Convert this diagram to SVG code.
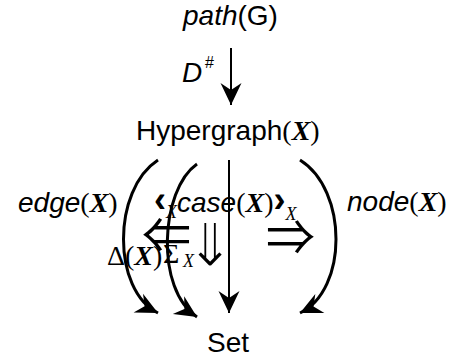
<svg xmlns="http://www.w3.org/2000/svg" width="456" height="357" viewBox="0 0 456 357">
<style>
.s{font-family:"Liberation Sans",Arial,sans-serif;font-size:28px;fill:#000}
.i{font-style:italic}
.t{font-family:"Liberation Serif","Times New Roman",serif}
.bx{font-family:"Liberation Serif","Times New Roman",serif;font-weight:bold;font-style:italic}
.sub{font-family:"Liberation Serif","Times New Roman",serif;font-style:italic;font-size:18px}
.ang{font-weight:bold;font-size:36px}
.ar{font-family:"Noto Sans CJK JP","DejaVu Sans",sans-serif;font-size:49px;fill:#000}
.dn{font-family:"DejaVu Sans",sans-serif;font-size:60px;fill:#000;stroke:#fff;stroke-width:1.6}
.ln{fill:none;stroke:#000;stroke-width:2}
.cv{fill:none;stroke:#000;stroke-width:3}
</style>
<defs>
<marker id="ah" markerUnits="userSpaceOnUse" viewBox="-24 -12 26 24" refX="0" refY="0" markerWidth="26" markerHeight="24" orient="auto">
<path d="M0,0 L-22,-10.5 L-15,0 L-22,10.5 Z" fill="#000"/>
</marker>
</defs>
<g id="node-path">
<text class="s" x="183" y="25"><tspan class="i">path</tspan>(G)</text>
</g>
<g id="node-hypergraph">
<text class="s" x="136" y="140">Hypergraph<tspan class="t">(</tspan><tspan class="bx">X</tspan><tspan class="t">)</tspan></text>
</g>
<g id="node-set">
<text class="s" x="207" y="352">Set</text>
</g>
<g id="labels">
<text class="s" x="182" y="82"><tspan class="i">D</tspan></text>
<text class="s" x="205" y="68" style="font-size:16px">#</text>
<text class="s" x="18" y="212"><tspan class="i">edge</tspan><tspan class="t">(</tspan><tspan class="bx">X</tspan><tspan class="t">)</tspan></text>
<text class="s" x="347" y="211"><tspan class="i">node</tspan><tspan class="t">(</tspan><tspan class="bx">X</tspan><tspan class="t">)</tspan></text>
<text class="s" x="154" y="212"><tspan class="ang">‹</tspan><tspan class="sub" dy="6">X</tspan><tspan class="i" dy="-6">case</tspan><tspan class="t">(</tspan><tspan class="bx">X</tspan><tspan class="t">)</tspan><tspan class="ang">›</tspan><tspan class="sub" dy="8">X</tspan></text>
<text class="s" x="107" y="265"><tspan class="t">Δ(</tspan><tspan class="bx">X</tspan><tspan class="t">)</tspan></text>
<text class="s t" x="163" y="263">Σ</text>
<text class="sub" x="183" y="267">X</text>
<text class="ar" x="142" y="253">⇐</text>
<text class="ar" x="266" y="255">⇒</text>
<text class="dn" x="185" y="266">⇓</text>
</g>
<g id="connectors">
<line class="ln" x1="231" y1="48" x2="231" y2="105" marker-end="url(#ah)"/>
<line class="ln" x1="229" y1="160" x2="229" y2="313" marker-end="url(#ah)"/>
<path class="cv" d="M158,160 C112,190 112,290 158,313" marker-end="url(#ah)"/>
<path class="cv" d="M197,164 C160,190 155,290 197,317" marker-end="url(#ah)"/>
<path class="cv" d="M300,160 C348,190 348,290 300,313" marker-end="url(#ah)"/>
</g>
</svg>
